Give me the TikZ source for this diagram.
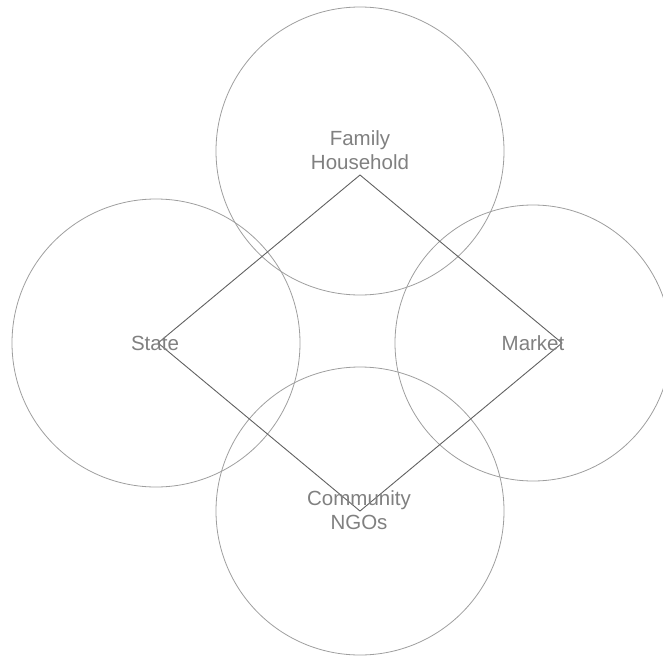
\documentclass[tikz,border=0pt]{standalone}
\usepackage{fontspec}
\setmainfont{Liberation Sans}
\begin{document}
\begin{tikzpicture}[x=1pt,y=-1pt,
  sector/.style={draw=black!38,line width=0.8pt},
  link/.style={draw=black!62,line width=0.9pt},
  lbl/.style={text=black!50,font=\fontsize{20.5}{24.5}\selectfont,align=center,inner sep=0pt}]
\useasboundingbox (0,0) rectangle (663,658);
% four sectors
\draw[sector] (360,151) circle (144);
\draw[sector] (156,343) circle (144);
\draw[sector] (533,343) circle (138);
\draw[sector] (360,511) circle (144);
% diamond corners
\coordinate (top) at (360,175);
\coordinate (left) at (158,343);
\coordinate (right) at (562,343);
\coordinate (bottom) at (360,511);
\draw[link] (top) -- (right) -- (bottom) -- (left) -- cycle;
% labels
\node[lbl] (family) at (360,150) {Family\\Household};
\node[lbl] (state) at (155,343) {State};
\node[lbl] (market) at (533,343) {Market};
\node[lbl] (community) at (359,510) {Community\\NGOs};
\end{tikzpicture}
\end{document}
